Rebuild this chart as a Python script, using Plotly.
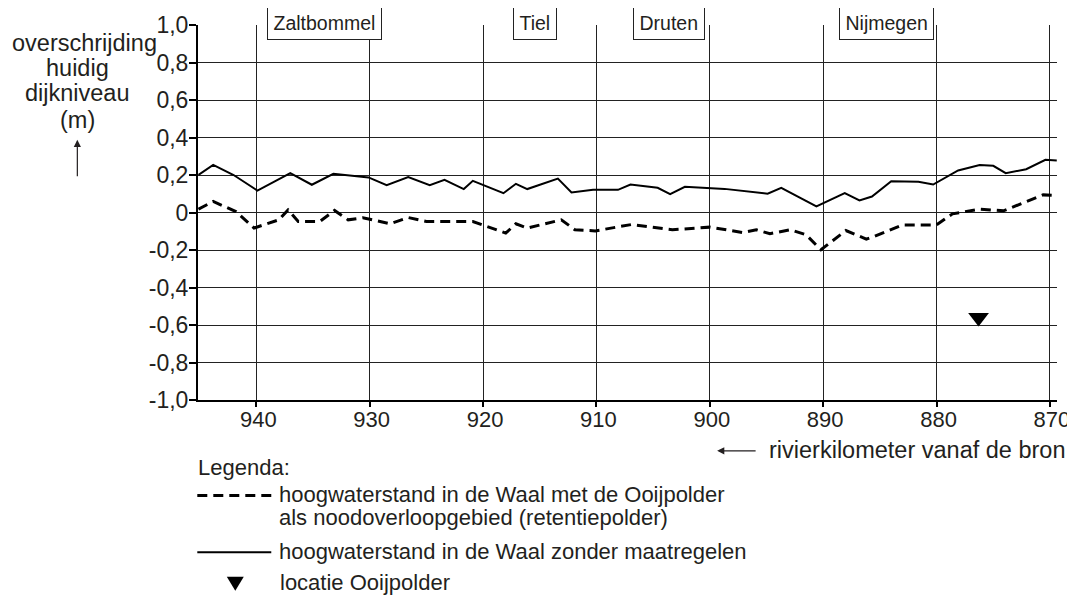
import plotly.graph_objects as go

# ---- data ----
km_zonder = [945.1, 943.8, 942.0, 939.9, 937.0, 935.1, 933.2, 930.1, 928.5, 926.6, 924.7,
             923.4, 921.7, 920.9, 918.2, 917.1, 916.1, 913.4, 912.2, 910.3, 908.1, 907.0,
             904.6, 903.5, 902.2, 898.7, 894.9, 893.7, 890.6, 888.1, 886.8, 885.7, 884.0,
             881.6, 880.3, 878.1, 876.2, 875.0, 873.9, 872.1, 870.4, 869.4]
val_zonder = [0.200, 0.254, 0.200, 0.117, 0.210, 0.148, 0.206, 0.187, 0.146, 0.189, 0.146,
              0.174, 0.125, 0.169, 0.103, 0.153, 0.125, 0.181, 0.107, 0.121, 0.121, 0.149,
              0.132, 0.098, 0.137, 0.126, 0.100, 0.132, 0.032, 0.103, 0.064, 0.085, 0.167,
              0.164, 0.149, 0.224, 0.253, 0.249, 0.210, 0.231, 0.281, 0.277]

km_polder = [945.1, 943.8, 941.8, 940.2, 938.0, 937.2, 936.3, 934.4, 933.1, 931.9, 930.6,
             928.2, 926.6, 925.0, 920.9, 918.0, 917.1, 916.1, 913.1, 911.9, 910.1, 906.9,
             903.3, 900.0, 897.1, 895.9, 894.7, 892.9, 891.5, 890.2, 888.0, 886.2, 885.5,
             883.0, 880.0, 878.6, 876.2, 874.1, 870.6, 869.4]
val_polder = [0.018, 0.059, 0.005, -0.083, -0.039, 0.014, -0.048, -0.048, 0.011, -0.039, -0.028,
              -0.060, -0.027, -0.048, -0.048, -0.110, -0.060, -0.083, -0.039, -0.092, -0.098, -0.064,
              -0.092, -0.078, -0.107, -0.092, -0.113, -0.092, -0.119, -0.199, -0.096, -0.142, -0.128,
              -0.066, -0.066, -0.007, 0.018, 0.009, 0.094, 0.091]

ooij_km = [876.3]
ooij_val = [-0.56]

towns = ["Zaltbommel", "Tiel", "Druten", "Nijmegen"]
town_km = [934.0, 915.4, 903.6, 884.4]

x_ticks = [940, 930, 920, 910, 900, 890, 880, 870]
y_ticks = [-1.0, -0.8, -0.6, -0.4, -0.2, 0.0, 0.2, 0.4, 0.6, 0.8, 1.0]
y_ticktext = ["-1,0", "-0,8", "-0,6", "-0,4", "-0,2", "0", "0,2", "0,4", "0,6", "0,8", "1,0"]

legend_title = "Legenda:"
legend_dashed = ["hoogwaterstand in de Waal met de Ooijpolder",
                 "als noodoverloopgebied (retentiepolder)"]
legend_solid = "hoogwaterstand in de Waal zonder maatregelen"
legend_marker = "locatie Ooijpolder"
y_title_lines = ["overschrijding", "huidig", "dijkniveau", "(m)"]
x_title = "rivierkilometer vanaf de bron"

# ---- layout geometry (page body adds an 8px margin; positions below are
#      given in screen pixels and shifted by OFF) ----
OFF = 8
W, H = 1075 - 2 * OFF, 603 - 2 * OFF
PL, PR, PT, PB = 197.7, 1057.0, 25.2, 400.2   # plot area in screen px
ML, MR, MT, MB = PL - OFF, W - (PR - OFF), PT - OFF, H - (PB - OFF)
PW, PH = PR - PL, PB - PT
FONT = "Liberation Sans, Arial, sans-serif"
TXT = "#231f20"


def px(X):
    return (X - PL) / PW


def py(Y):
    return (PB - Y) / PH


fig = go.Figure()

fig.add_trace(go.Scatter(x=km_zonder, y=val_zonder, mode="lines",
                         line=dict(color="black", width=2), showlegend=False))
fig.add_trace(go.Scatter(x=km_polder, y=val_polder, mode="lines",
                         line=dict(color="black", width=3, dash="10px,6px"), showlegend=False))
fig.add_trace(go.Scatter(x=ooij_km, y=ooij_val, mode="markers",
                         marker=dict(symbol="triangle-down", size=18, color="black"),
                         showlegend=False))

annotations = []
for name, k in zip(towns, town_km):
    annotations.append(dict(x=k, y=1.0, xref="x", yref="y", text=name, showarrow=False,
                            font=dict(family=FONT, size=19.5, color=TXT),
                            bgcolor="white", bordercolor="#222", borderwidth=1, borderpad=5.5,
                            xanchor="center", yanchor="middle", yshift=3))

# y-axis title
ytitle_pos = [(83.7, 43), (76.7, 68), (76.7, 93), (76.7, 120)]
for t, (X, Y) in zip(y_title_lines, ytitle_pos):
    annotations.append(dict(x=px(X), y=py(Y), xref="paper", yref="paper", text=t,
                            showarrow=False, xanchor="center", yanchor="middle",
                            font=dict(family=FONT, size=23.5, color=TXT)))
annotations.append(dict(x=px(77), y=py(140), xref="paper", yref="paper", text="",
                        showarrow=True, ax=0, ay=38, arrowhead=2, arrowsize=1.2,
                        arrowwidth=1.2, arrowcolor=TXT))

# x-axis title
annotations.append(dict(x=px(767), y=py(450), xref="paper", yref="paper", text=x_title,
                        showarrow=False, xanchor="left", yanchor="middle",
                        font=dict(family=FONT, size=23.5, color=TXT)))
annotations.append(dict(x=px(717), y=py(451), xref="paper", yref="paper", text="",
                        showarrow=True, ax=40, ay=0, arrowhead=2, arrowsize=1.2,
                        arrowwidth=1.2, arrowcolor=TXT))

# legend texts
annotations.append(dict(x=px(196), y=py(468), xref="paper", yref="paper", text=legend_title,
                        showarrow=False, xanchor="left", yanchor="middle",
                        font=dict(family=FONT, size=22, color=TXT)))
for t, Y in zip(legend_dashed, [495, 518]):
    annotations.append(dict(x=px(277), y=py(Y), xref="paper", yref="paper", text=t,
                            showarrow=False, xanchor="left", yanchor="middle",
                            font=dict(family=FONT, size=22, color=TXT)))
annotations.append(dict(x=px(277), y=py(552), xref="paper", yref="paper", text=legend_solid,
                        showarrow=False, xanchor="left", yanchor="middle",
                        font=dict(family=FONT, size=22, color=TXT)))
annotations.append(dict(x=px(278), y=py(583), xref="paper", yref="paper", text=legend_marker,
                        showarrow=False, xanchor="left", yanchor="middle",
                        font=dict(family=FONT, size=22, color=TXT)))

shapes = [
    dict(type="line", xref="paper", yref="paper", x0=px(197), x1=px(271), y0=py(495.7),
         y1=py(495.7), line=dict(color="black", width=3, dash="10px,6px")),
    dict(type="line", xref="paper", yref="paper", x0=px(197), x1=px(271), y0=py(552.5),
         y1=py(552.5), line=dict(color="black", width=2)),
    dict(type="path", xref="paper", yref="paper",
         path="M {:.5f},{:.5f} L {:.5f},{:.5f} L {:.5f},{:.5f} Z".format(
             px(226.5), py(577), px(243.5), py(577), px(235), py(591)),
         fillcolor="black", line=dict(color="black", width=0)),
]

fig.update_layout(
    width=W, height=H,
    margin=dict(l=ML, r=MR, t=MT, b=MB, pad=0, autoexpand=False),
    paper_bgcolor="white", plot_bgcolor="white",
    font=dict(family=FONT, size=22, color=TXT),
    showlegend=False,
    annotations=annotations,
    shapes=shapes,
    xaxis=dict(range=[945.14, 869.38], tickvals=x_ticks, ticktext=[str(v) for v in x_ticks],
               automargin=False, ticklabeloverflow="allow",
               showgrid=True, gridcolor="#222", gridwidth=1, zeroline=False,
               showline=True, linecolor="black", linewidth=2,
               ticks="outside", ticklen=5, tickwidth=1.5, tickcolor="black",
               ticklabelstandoff=-6, ticklabelshift=-2,
               tickfont=dict(family=FONT, size=22, color=TXT)),
    yaxis=dict(range=[-1.0, 1.0], tickvals=y_ticks, ticktext=y_ticktext,
               automargin=False,
               showgrid=True, gridcolor="#222", gridwidth=1, zeroline=False,
               showline=True, linecolor="black", linewidth=2,
               ticks="outside", ticklen=7, tickwidth=1.5, tickcolor="black",
               ticklabelstandoff=-4,
               tickfont=dict(family=FONT, size=23, color=TXT)),
)

fig.write_html("out.html")
